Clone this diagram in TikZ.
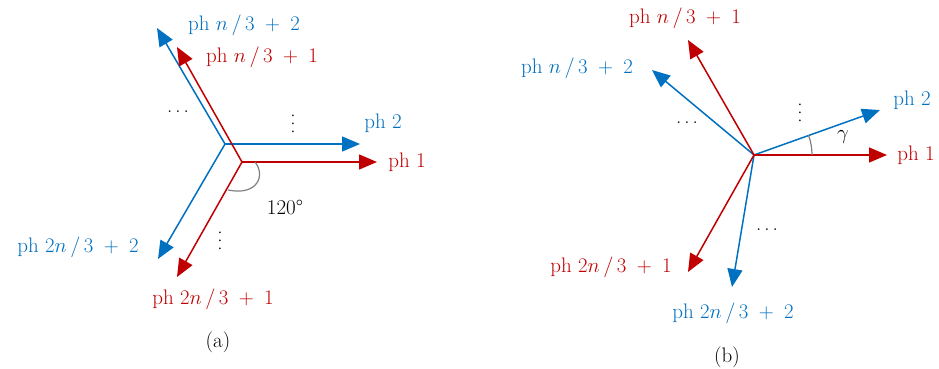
\documentclass[tikz,border=0pt]{standalone}
\usetikzlibrary{arrows.meta,calc}
\definecolor{phred}{RGB}{192,0,0}
\definecolor{phblue}{RGB}{0,112,192}
\newcommand\fr[2]{#1\mkern3mu/\mkern3mu#2}
\newcommand\myhdots{.\kern3pt.\kern3pt.}
\newcommand\myvdots{\rotatebox{90}{.\kern2.5pt.\kern2.5pt.}}
\begin{document}
\begin{tikzpicture}[x=1pt,y=-1pt,
  font=\fontsize{21}{25}\selectfont,
  redarr/.style={draw=phred, line width=1.5pt, -{Triangle[length=18pt,width=15pt]}},
  bluearr/.style={draw=phblue, line width=1.5pt, -{Triangle[length=18pt,width=15pt]}},
  redlbl/.style={text=phred, inner sep=0pt},
  bluelbl/.style={text=phblue, inner sep=0pt},
  plainlbl/.style={text=black, inner sep=0pt},
  anglearc/.style={draw=gray, line width=1.2pt}]
\useasboundingbox (0,0) rectangle (939,369);
\medmuskip=9mu plus 2mu minus 2mu
% ---------- (a) ----------
\coordinate (Ra) at (242,162);
\coordinate (Ba) at (225,144);
\coordinate (Ra1) at (377,162);
\coordinate (Ra2) at (177,47);
\coordinate (Ra3) at (177,277);
\coordinate (Ba1) at (360,144);
\coordinate (Ba2) at (157,28);
\coordinate (Ba3) at (158,259);
\draw[bluearr] (Ba) -- (Ba1);
\draw[bluearr] (Ba) -- (Ba2);
\draw[bluearr] (Ba) -- (Ba3);
\draw[redarr] (Ra) -- (Ra1);
\draw[redarr] (Ra) -- (Ra2);
\draw[redarr] (Ra) -- (Ra3);
\draw[anglearc] (255,162) .. controls (266,176) and (257,196) .. (228,190);
\node[bluelbl] (la2) at (244,25) {ph $\fr{n}{3}+2$};
\node[redlbl] (la1) at (262,57) {ph $\fr{n}{3}+1$};
\node[bluelbl] (lap2) at (383,123) {ph 2};
\node[redlbl] (lap1) at (407,162) {ph 1};
\node[plainlbl] (lad1) at (178,112) {\myhdots};
\node[plainlbl] (lad2) at (293,124) {\myvdots};
\node[plainlbl] (lang) at (285,207) {120\textdegree};
\node[bluelbl] (la4) at (78,247) {ph $\fr{2n}{3}+2$};
\node[redlbl] (la3) at (213,299) {ph $\fr{2n}{3}+1$};
\node[plainlbl] (lad3) at (220,241) {\myvdots};
\node[plainlbl] (capa) at (218,342) {(a)};
% ---------- (b) ----------
\coordinate (Ob) at (754,155);
\coordinate (Rb1) at (887,155);
\coordinate (Rb2) at (688,40);
\coordinate (Rb3) at (688,272);
\coordinate (Bb1) at (880,110);
\coordinate (Bb2) at (652,70);
\coordinate (Bb3) at (732,287);
\draw[bluearr] (Ob) -- (Bb1);
\draw[bluearr] (Ob) -- (Bb2);
\draw[bluearr] (Ob) -- (Bb3);
\draw[redarr] (Ob) -- (Rb1);
\draw[redarr] (Ob) -- (Rb2);
\draw[redarr] (Ob) -- (Rb3);
\draw[anglearc] ($(Ob)+(58,0)$) arc[start angle=0, end angle=-20, radius=58];
\node[redlbl] (lb1) at (685,18) {ph $\fr{n}{3}+1$};
\node[bluelbl] (lb2) at (577,68) {ph $\fr{n}{3}+2$};
\node[bluelbl] (lbp2) at (912,100) {ph 2};
\node[redlbl] (lbp1) at (916,155) {ph 1};
\node[plainlbl] (lbd1) at (687,123) {\myhdots};
\node[plainlbl] (lbd2) at (800,113) {\myvdots};
\node[plainlbl] (lbg) at (843,137) {$\gamma$};
\node[redlbl] (lb3) at (611,267) {ph $\fr{2n}{3}+1$};
\node[bluelbl] (lb4) at (733,313) {ph $\fr{2n}{3}+2$};
\node[plainlbl] (lbd3) at (767,230) {\myhdots};
\node[plainlbl] (capb) at (727,357) {(b)};
\end{tikzpicture}
\end{document}
